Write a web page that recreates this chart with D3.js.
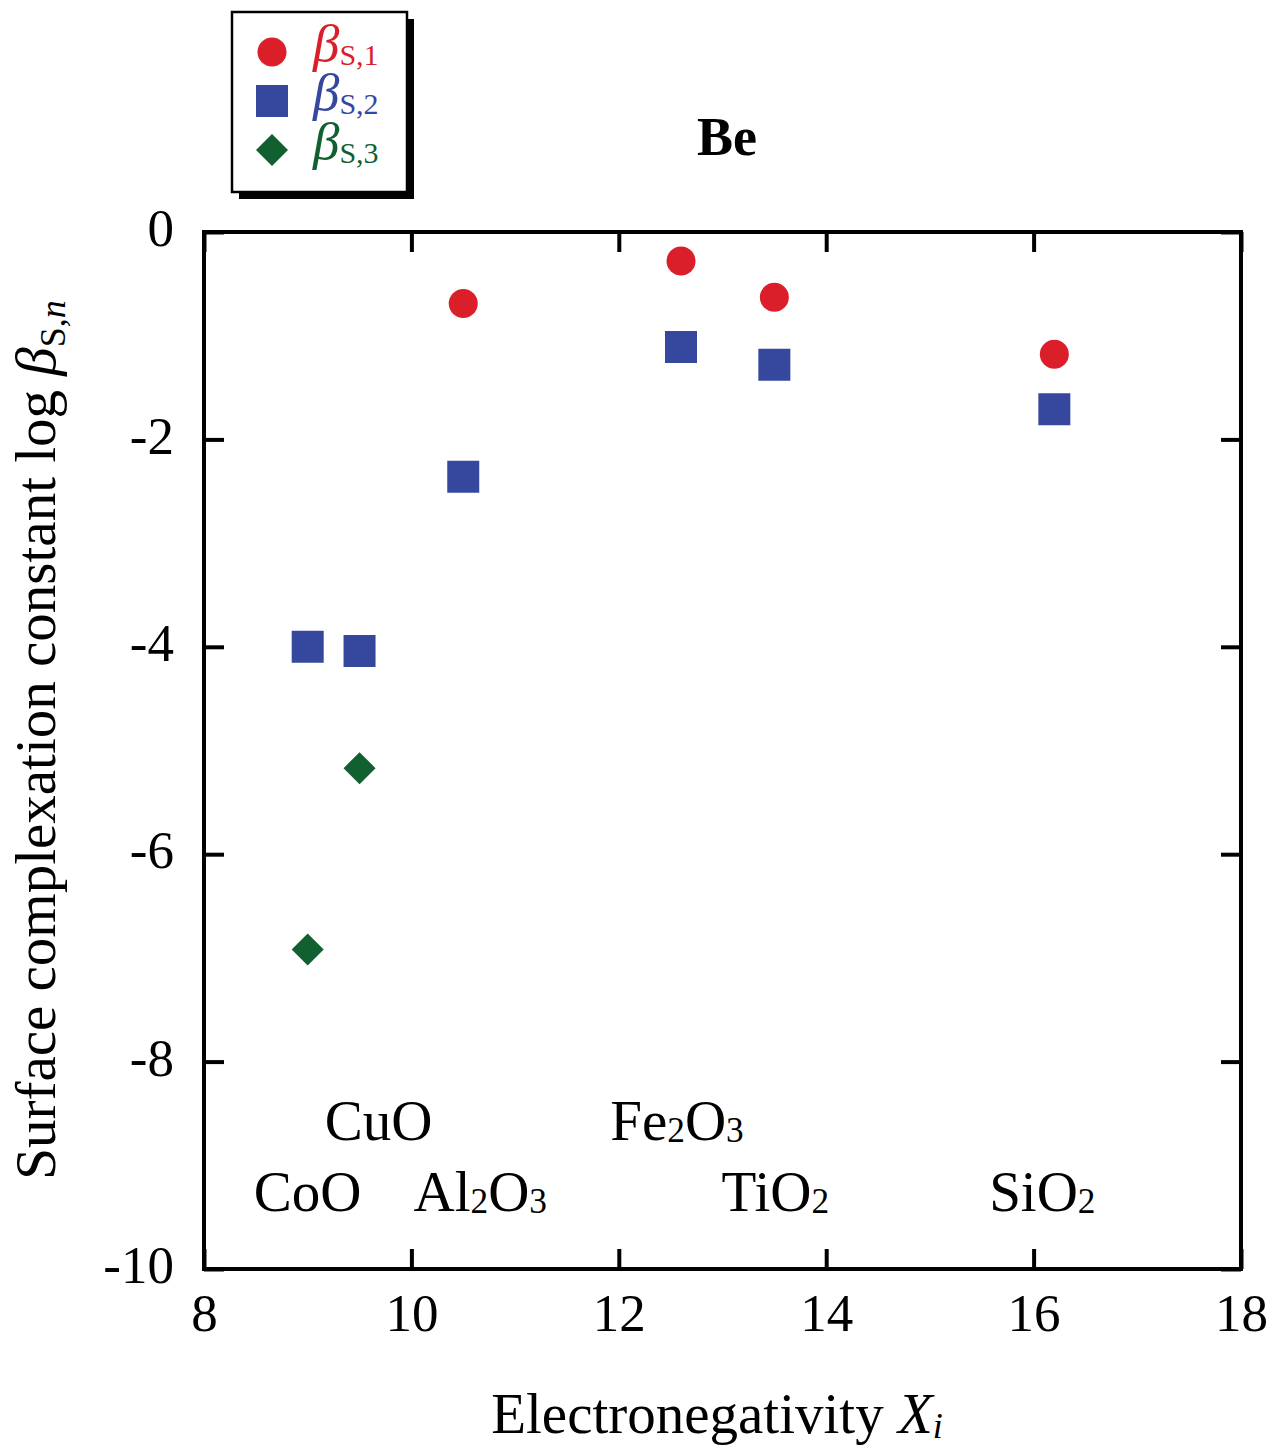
<!DOCTYPE html>
<html>
<head>
<meta charset="utf-8">
<script src="https://cdn.jsdelivr.net/npm/d3@7"></script>
<style>
  html, body { margin: 0; padding: 0; background: #fff; }
  svg { display: block; font-family: "Liberation Serif", "Times New Roman", serif; }
</style>
</head>
<body>
<svg id="chart" width="1273" height="1450"></svg>
<script>
// Oxide surfaces and their electronegativity X_i
const oxides = ["CoO", "CuO", "Al2O3", "Fe2O3", "TiO2", "SiO2"];
const electronegativity = [9.0, 9.5, 10.5, 12.6, 13.5, 16.2];

// log β_S,n for Be on each oxide (null = not determined)
const logBeta1 = [null, null, -0.69, -0.28, -0.63, -1.18];
const logBeta2 = [-4.00, -4.04, -2.36, -1.11, -1.28, -1.71];
const logBeta3 = [-6.92, -5.17, null, null, null, null];

const xTicks = [8, 10, 12, 14, 16, 18];
const yTicks = [0, -2, -4, -6, -8, -10];

const seriesNames = ["1", "2", "3"];

// ---- layout ----
const plot = { left: 204, right: 1241, top: 232, bottom: 1269 };
const colors = { "1": "#db1f2a", "2": "#35489d", "3": "#11602f" };
const shapes = { "1": d3.symbolCircle, "2": d3.symbolSquare, "3": d3.symbolDiamond2 };
// symbol areas: circle r≈14.5, square side 32, diamond half-diagonal 16
const symSize = { "1": Math.PI * 14.5 * 14.5, "2": 32 * 32, "3": Math.pow(16 / 0.62625, 2) };

// where each oxide name is written (row and horizontal nudge in px)
const labelLayout = {
  CoO:   { row: 2, dx: 0 },
  CuO:   { row: 1, dx: 19 },
  Al2O3: { row: 2, dx: 17 },
  Fe2O3: { row: 1, dx: -4 },
  TiO2:  { row: 2, dx: 1 },
  SiO2:  { row: 2, dx: -12 }
};
const rowBaseline = { 1: 1140, 2: 1211 };
const labelFont = 57;

const svg = d3.select("#chart");
const x = d3.scaleLinear().domain([8, 18]).range([plot.left, plot.right]);
const y = d3.scaleLinear().domain([-10, 0]).range([plot.bottom, plot.top]);

const tickFont = 53;

// axes: ticks point inward on all four sides
const gB = svg.append("g").attr("transform", `translate(0,${plot.bottom})`)
  .call(d3.axisBottom(x).tickValues(xTicks).tickSize(-20).tickPadding(24).tickFormat(d3.format("d")));
const gT = svg.append("g").attr("transform", `translate(0,${plot.top})`)
  .call(d3.axisTop(x).tickValues(xTicks).tickSize(-20).tickFormat(""));
const gL = svg.append("g").attr("transform", `translate(${plot.left},0)`)
  .call(d3.axisLeft(y).tickValues(yTicks).tickSize(-20).tickPadding(30).tickFormat(d => d === 0 ? "0" : "-" + Math.abs(d)));
const gR = svg.append("g").attr("transform", `translate(${plot.right},0)`)
  .call(d3.axisRight(y).tickValues(yTicks).tickSize(-20).tickFormat(""));

[gB, gT, gL, gR].forEach(g => {
  g.select(".domain").remove();
  g.selectAll(".tick line").attr("stroke", "#000").attr("stroke-width", 4);
  g.selectAll(".tick text").attr("fill", "#000")
    .style("font-family", "'Liberation Serif', serif").style("font-size", tickFont + "px");
});
gL.selectAll(".tick text").attr("dy", "0.26em");

// frame
svg.append("rect")
  .attr("x", plot.left).attr("y", plot.top)
  .attr("width", plot.right - plot.left).attr("height", plot.bottom - plot.top)
  .attr("fill", "none").attr("stroke", "#000").attr("stroke-width", 4);

// points
const seriesValues = { "1": logBeta1, "2": logBeta2, "3": logBeta3 };
seriesNames.forEach(s => {
  const pts = electronegativity.map((xi, i) => ({ xi, v: seriesValues[s][i] })).filter(d => d.v !== null);
  svg.append("g").selectAll("path").data(pts).join("path")
    .attr("transform", d => `translate(${x(d.xi)},${y(d.v)})`)
    .attr("d", d3.symbol().type(shapes[s]).size(symSize[s]))
    .attr("fill", colors[s]);
});

// oxide labels with subscript digits
function chem(textSel, formula, size) {
  const parts = formula.match(/[A-Za-z]+|\d+/g);
  let lowered = false;
  parts.forEach(p => {
    const isNum = /\d/.test(p);
    const t = textSel.append("tspan").text(p);
    if (isNum) {
      t.style("font-size", (size * 0.62) + "px").attr("dy", lowered ? 0 : 2);
      lowered = true;
    } else {
      t.attr("dy", lowered ? -2 : 0);
      lowered = false;
    }
  });
}
oxides.forEach((name, i) => {
  const L = labelLayout[name];
  const t = svg.append("text")
    .attr("x", x(electronegativity[i]) + L.dx)
    .attr("y", rowBaseline[L.row])
    .attr("text-anchor", "middle")
    .style("font-size", labelFont + "px");
  chem(t, name, labelFont);
});

// title
svg.append("text").attr("x", 727).attr("y", 155).attr("text-anchor", "middle")
  .style("font-size", "54px").style("font-weight", "bold").text("Be");

// x-axis title
const xt = svg.append("text").attr("x", 717).attr("y", 1433).attr("text-anchor", "middle")
  .style("font-size", "57px");
xt.append("tspan").text("Electronegativity ");
xt.append("tspan").style("font-style", "italic").text("X");
xt.append("tspan").style("font-style", "italic").style("font-size", "36px").attr("dy", 5).text("i");

// y-axis title
const yt = svg.append("text")
  .attr("transform", "translate(55,740) rotate(-90)")
  .attr("text-anchor", "middle")
  .style("font-size", "57px");
yt.append("tspan").text("Surface complexation constant log ");
yt.append("tspan").style("font-style", "italic").text("β");
yt.append("tspan").style("font-size", "36px").attr("dy", 10).text("S,");
yt.append("tspan").style("font-size", "36px").style("font-style", "italic").text("n");

// legend box with drop shadow
const lg = { x: 232, y: 12, w: 175, h: 180 };
svg.append("rect").attr("x", lg.x + 7).attr("y", lg.y + 7).attr("width", lg.w).attr("height", lg.h).attr("fill", "#000");
svg.append("rect").attr("x", lg.x).attr("y", lg.y).attr("width", lg.w).attr("height", lg.h)
  .attr("fill", "#fff").attr("stroke", "#000").attr("stroke-width", 2.5);

const legendRows = [52, 101, 150];
seriesNames.forEach((s, i) => {
  const cy = legendRows[i];
  svg.append("path").attr("transform", `translate(272,${cy})`)
    .attr("d", d3.symbol().type(shapes[s]).size(symSize[s])).attr("fill", colors[s]);
  const t = svg.append("text").attr("x", 313).attr("y", cy + 9).attr("fill", colors[s])
    .style("font-size", "53px");
  t.append("tspan").style("font-style", "italic").text("β");
  t.append("tspan").style("font-size", "30px").attr("dy", 4).text("S," + s);
});
</script>
</body>
</html>
